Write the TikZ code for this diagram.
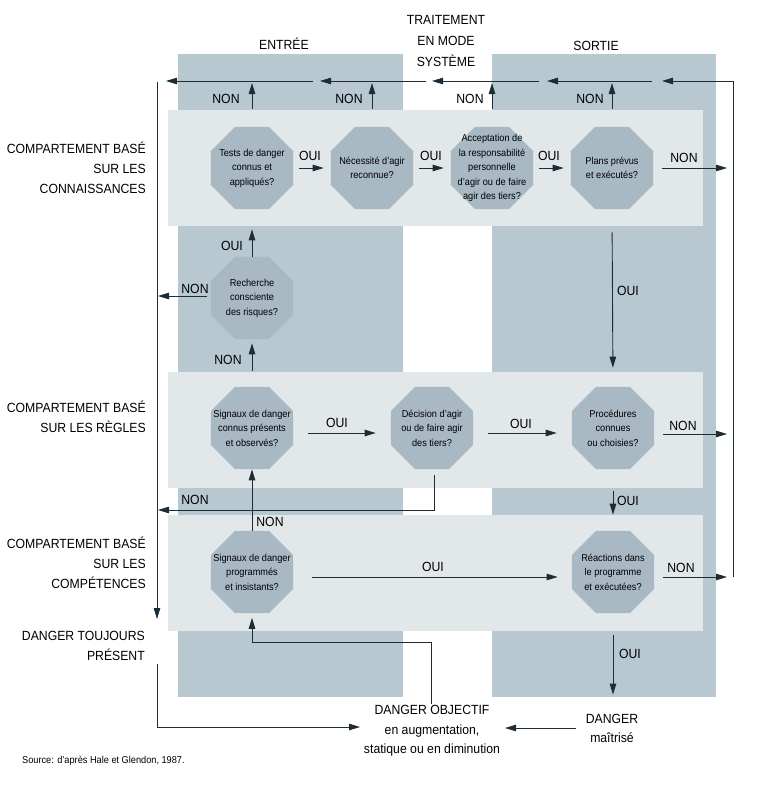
\documentclass[tikz,border=0pt]{standalone}
\usepackage{fontspec}
\setmainfont{Liberation Sans}[FakeStretch=0.92]
\usetikzlibrary{shapes.geometric,arrows.meta}

\definecolor{colfill}{RGB}{184,200,208}
\definecolor{bandfill}{RGB}{226,231,234}
\definecolor{octfill}{RGB}{168,185,195}
\definecolor{linecol}{RGB}{30,44,54}

\begin{document}
\begin{tikzpicture}[
		x=1pt, y=-1pt,
		>={Triangle[length=11pt,width=6.5pt]},
		flow/.style={draw=linecol,line width=0.9pt},
		lbl/.style={font=\fontsize{13.3}{20}\selectfont,inner sep=1pt},
		side/.style={lbl,align=right,anchor=east},
		octtext/.style={align=center,font=\fontsize{10}{14.5}\selectfont},
		octa/.style={regular polygon,regular polygon sides=8,minimum size=89pt,
			inner sep=0pt,fill=octfill,label={[octtext]center:#1}}
	]
		\useasboundingbox (0,0) rectangle (772,787);

		%columns
		\fill[colfill] (178,54) rectangle (403,697);
		\fill[colfill] (492,54) rectangle (716,697);

		%bands
		\foreach \ya/\yb in {110/226,372/488,515/631}
			\fill[bandfill] (168,\ya) rectangle (703,\yb);

		%headings
		\node[lbl] (entree) at (284,44) {ENTRÉE};
		\node[lbl,align=center,font=\fontsize{13.3}{21}\selectfont] (mode) at (446,41) {TRAITEMENT\\EN MODE\\SYSTÈME};
		\node[lbl] (sortie) at (596,46) {SORTIE};

		%levels
		\node[side] (niv1) at (147,168) {COMPARTEMENT BASÉ\\SUR LES\\CONNAISSANCES};
		\node[side] (niv2) at (147,417) {COMPARTEMENT BASÉ\\SUR LES RÈGLES};
		\node[side] (niv3) at (147,563) {COMPARTEMENT BASÉ\\SUR LES\\COMPÉTENCES};
		\node[side] (reste) at (146,646) {DANGER TOUJOURS\\PRÉSENT};

		%questions
		\node[octa={Tests de danger\\connus et\\appliqués?}] (t1) at (252,168) {};
		\node[octa={Nécessité d'agir\\reconnue?}] (t2) at (372,168) {};
		\node[octa={Acceptation de\\la responsabilité\\personnelle\\d'agir ou de faire\\agir des tiers?}] (t3) at (492,168) {};
		\node[octa={Plans prévus\\et exécutés?}] (t4) at (612,168) {};
		\node[octa={Recherche\\consciente\\des risques?}] (rc) at (252,298) {};
		\node[octa={Signaux de danger\\connus présents\\et observés?}] (k1) at (252,428) {};
		\node[octa={Décision d'agir\\ou de faire agir\\des tiers?}] (k2) at (432,428) {};
		\node[octa={Procédures\\connues\\ou choisies?}] (k3) at (613,428) {};
		\node[octa={Signaux de danger\\programmés\\et insistants?}] (s1) at (252,572) {};
		\node[octa={Réactions dans\\le programme\\et exécutées?}] (s3) at (613,572) {};

		%outcomes
		\node[lbl,align=center,font=\fontsize{13.3}{19.5}\selectfont] (dobj) at (432,731) {DANGER OBJECTIF\\en augmentation,\\statique ou en diminution};
		\node[lbl,align=center,font=\fontsize{13.3}{19}\selectfont] (dm) at (612,728) {DANGER\\maîtrisé};
		\node[anchor=west,inner sep=0pt,font=\fontsize{10}{12}\selectfont] (source) at (22,761) {Source: d'après Hale et Glendon, 1987.};

		%rails
		\coordinate (rtop) at (733,81);
		\coordinate (rbot) at (733,577);
		\coordinate (ltop) at (157,82);
		\coordinate (lmid) at (157,619);
		\coordinate (llow) at (157,664);
		\coordinate (lnon) at (157,510);
		\coordinate (fb) at (431,642);
		\coordinate (dobjL) at (360,727);
		\coordinate (dobjR) at (505,728);

		\foreach \x [count=\i] in {662,652,547,539,432,426,320,313,166}
			\coordinate (top\i) at (\x,81);
		\draw[flow,->] (rbot) -- (rtop) -- (top1);
		\foreach \i/\j in {2/3,4/5,6/7,8/9}
			\draw[flow,->] (top\i) -- (top\j);
		\draw[flow,->] (ltop) -- (lmid);
		\draw[flow,->] (llow) |- (dobjL);
		\draw[flow,->,shorten <=9pt] (dm.west) -- (dm.west -| dobjR);
		\draw[flow,->,shorten >=4.5pt] (dobj.north -| fb) -- (fb) -| (s1.south);

		%level 1
		\foreach \q in {t1,t2,t3,t4}
			\draw[flow,->,shorten <=18pt,shorten >=2pt] (\q.north) -- (\q.north |- rtop);
		\foreach \a/\b in {t1/t2,t2/t3,t3/t4}
			\draw[flow,->,shorten <=6pt,shorten >=7pt] (\a.east) -- (\b.west);
		\draw[flow,->,shorten <=9pt,shorten >=6pt] (t4.east) -- (t4.east -| rtop);
		\draw[flow,->,shorten <=23pt,shorten >=19pt] (t4.south) -- (k3.north);
		\draw[flow,->,shorten >=20pt] (rc.north) -- (t1.south);
		\draw[flow,->,shorten <=16pt,shorten >=4pt] (k1.north) -- (rc.south);
		\draw[flow,->,shorten <=4pt,shorten >=1pt] ([yshift=2pt]rc.west) -- ([yshift=2pt]rc.west -| ltop);

		%level 2
		\foreach \a/\b in {k1/k2,k2/k3}
			\draw[flow,->,shorten <=15pt,shorten >=15pt] ([yshift=-5pt]\a.east) -- ([yshift=-5pt]\b.west);
		\draw[flow,->,shorten <=9pt,shorten >=6pt] ([yshift=-6pt]k3.east) -- ([yshift=-6pt]k3.east -| rtop);
		\draw[flow,->,shorten <=22pt,shorten >=16pt] (k3.south) -- (s3.north);
		\draw[flow,->,shorten <=6pt,shorten >=1pt] ([xshift=2pt]k2.south) |- (lnon);

		%level 3
		\draw[flow,->] (s1.north) -- (k1.south);
		\draw[flow,->,shorten <=19pt,shorten >=14pt] ([yshift=-5pt]s1.east) -- ([yshift=-5pt]s3.west);
		\draw[flow,->,shorten <=9pt,shorten >=6pt] ([yshift=-5pt]s3.east) -- ([yshift=-5pt]s3.east -| rtop);
		\draw[flow,->,shorten <=22pt,shorten >=18pt] (s3.south) -- (s3.south |- dm.north);

		%answers
		\node[lbl] (n1) at (226,99) {NON};
		\node[lbl] (n2) at (349,99) {NON};
		\node[lbl] (n3) at (470,99) {NON};
		\node[lbl] (n4) at (590,99) {NON};
		\node[lbl] (o1) at (310,156) {OUI};
		\node[lbl] (o2) at (431,156) {OUI};
		\node[lbl] (o3) at (549,156) {OUI};
		\node[lbl] (n5) at (684,158) {NON};
		\node[lbl] (o4) at (628,291) {OUI};
		\node[lbl] (o5) at (232,246) {OUI};
		\node[lbl] (n6) at (228,360) {NON};
		\node[lbl] (n7) at (195,289) {NON};
		\node[lbl] (o6) at (337,423) {OUI};
		\node[lbl] (o7) at (521,424) {OUI};
		\node[lbl] (n8) at (683,426) {NON};
		\node[lbl] (o8) at (628,501) {OUI};
		\node[lbl] (n9) at (195,500) {NON};
		\node[lbl] (n10) at (270,522) {NON};
		\node[lbl] (o9) at (433,567) {OUI};
		\node[lbl] (n11) at (681,568) {NON};
		\node[lbl] (o10) at (630,654) {OUI};
	\end{tikzpicture}
\end{document}
